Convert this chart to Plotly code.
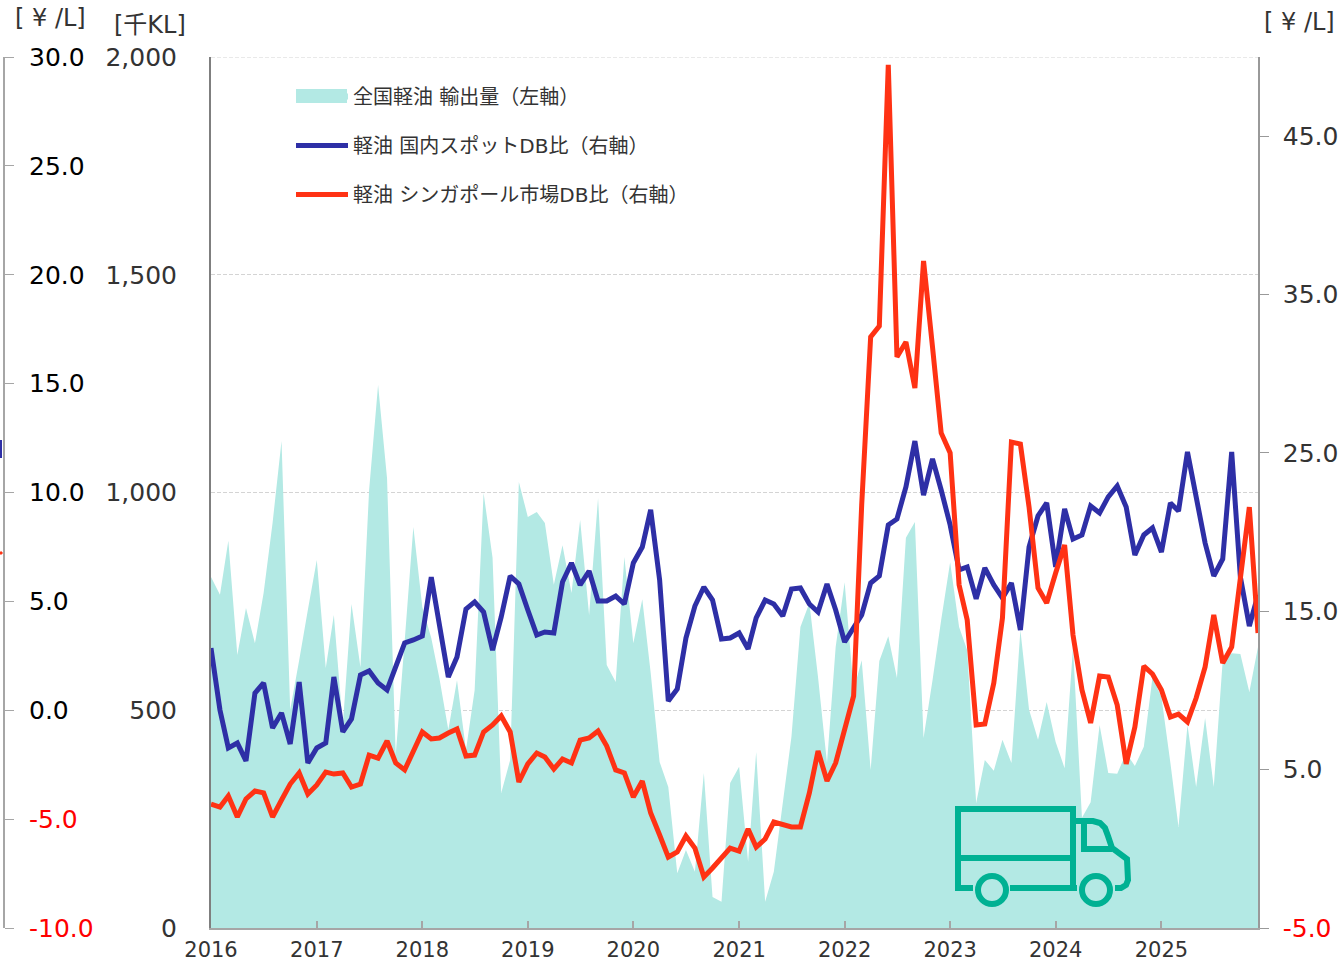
import plotly.graph_objects as go

months = [f"{y}-{m:02d}-01" for y in range(2016, 2026) for m in range(1, 13)]
year_ticks = [f"{y}-01-01" for y in range(2016, 2026)]
year_labels = [str(y) for y in range(2016, 2026)]

exports = [806,765,889,627,735,654,769,930,1118,501,615,730,845,597,719,466,744,599,1006,1247,
           1033,397,659,921,737,666,574,455,569,409,546,999,850,310,386,1024,944,955,930,788,
           879,769,937,719,987,604,565,852,654,755,586,381,324,126,179,129,356,71,60,333,
           370,152,404,60,129,287,439,691,746,576,379,645,794,546,615,363,613,670,574,896,
           932,436,569,707,840,691,638,287,386,361,432,379,684,501,432,519,427,367,645,253,
           289,466,356,354,402,372,416,576,530,379,232,466,324,482,324,615,631,629,542,645]

domestic = [12.68,8.77,6.37,6.68,5.55,9.84,10.47,7.63,8.58,6.62,10.53,5.42,6.37,6.68,10.85,7.38,8.20,10.98,11.23,10.47,
            10.03,11.54,13.00,13.19,13.44,17.16,14.32,10.85,12.11,15.14,15.59,14.95,12.55,14.64,17.23,16.72,15.08,13.50,13.69,13.63,
            16.85,18.05,16.66,17.54,15.65,15.65,15.96,15.46,18.05,19.06,21.40,16.98,9.33,10.09,13.31,15.33,16.53,15.71,13.25,13.31,
            13.63,12.62,14.58,15.71,15.46,14.70,16.41,16.47,15.46,14.95,16.72,15.08,13.06,14.01,14.77,16.79,17.23,20.45,20.83,22.85,
            25.75,22.34,24.62,22.66,20.45,17.61,17.80,15.78,17.73,16.66,15.84,16.79,13.82,19.06,21.02,21.84,17.80,21.46,19.56,19.82,
            21.65,21.21,22.22,22.91,21.58,18.55,19.82,20.26,18.74,21.84,21.33,25.06,22.34,19.31,17.23,18.30,25.06,17.16,14.07,16.03]

singapore = [2.83,2.64,3.34,2.01,3.15,3.65,3.53,2.01,3.08,4.09,4.79,3.46,4.03,4.85,4.72,4.79,3.90,4.09,5.92,5.73,
             6.81,5.42,4.98,6.18,7.38,6.94,7.00,7.31,7.57,5.86,5.92,7.38,7.82,8.39,7.38,4.22,5.36,6.05,5.80,5.04,
             5.67,5.42,6.87,7.00,7.44,6.49,4.98,4.79,3.27,4.28,2.26,0.87,-0.52,-0.20,0.81,0.05,-1.78,-1.21,-0.58,0.05,
             -0.14,1.25,0.11,0.62,1.69,1.57,1.38,1.38,3.53,6.18,4.28,5.42,7.69,9.65,21.71,32.32,33.01,49.50,31.06,32.00,
             29.10,37.12,31.69,26.26,25.00,16.66,14.45,7.82,7.88,10.47,14.58,25.69,25.56,21.58,16.47,15.52,17.42,19.19,13.50,10.03,
             7.95,10.91,10.85,9.08,5.36,7.69,11.54,11.04,10.03,8.32,8.51,8.01,9.52,11.48,14.77,11.73,12.74,17.16,21.58,13.63]

left_vals = [0, 500, 1000, 1500, 2000]
left_labels = ["0", "500", "1,000", "1,500", "2,000"]
right_vals = [-5, 5, 15, 25, 35, 45]
right_labels = ['<span style="color:#ff0000">-5.0</span>', "5.0", "15.0", "25.0", "35.0", "45.0"]
far_vals = [-10, -5, 0, 5, 10, 15, 20, 25, 30]
far_labels = ['<span style="color:#ff0000">-10.0</span>', '<span style="color:#ff0000">-5.0</span>',
              "0.0", "5.0", "10.0", "15.0", "20.0", "25.0", "30.0"]

names = ["全国軽油 輸出量（左軸）", "軽油 国内スポットDB比（右軸）", "軽油 シンガポール市場DB比（右軸）"]

FONT = "DejaVu Sans, Noto Sans CJK JP, sans-serif"
W, H = 1342, 961
L, R, T, B = 4, 1258, 57, 928
AREA = "#b3e9e4"


def px(x):
    return (x - L) / (R - L)


def py(y):
    return (B - y) / (B - T)


def path(points):
    return "M " + " L ".join(f"{px(x):.5f},{py(y):.5f}" for x, y in points)


fig = go.Figure()
fig.add_trace(go.Scatter(x=months, y=exports, name=names[0], mode="none", fill="tozeroy",
                         fillcolor=AREA, yaxis="y", legendgroup="a"))
fig.add_trace(go.Scatter(x=months, y=domestic, name=names[1], mode="lines",
                         line=dict(color="#2e2fa6", width=5), yaxis="y2", legendgroup="b"))
fig.add_trace(go.Scatter(x=months, y=singapore, name=names[2], mode="lines",
                         line=dict(color="#ff3214", width=5), yaxis="y2", legendgroup="c"))
fig.add_trace(go.Scatter(x=[months[0]], y=[None], yaxis="y3", showlegend=False, hoverinfo="skip"))

TRUCK = "#00b193"
TW = 6
truck_lines = dict(type="path", xref="paper", yref="paper", line=dict(color=TRUCK, width=TW))
shapes = [
    dict(truck_lines, path=path([(973, 888), (958, 888), (958, 809), (1073, 809), (1073, 888)])),
    dict(truck_lines, path=path([(958, 858), (1073, 858)])),
    dict(truck_lines, path=path([(1010, 888), (1077, 888)])),
    dict(truck_lines, path=path([(1073, 821), (1093, 821), (1100, 823), (1105, 828), (1108, 836), (1112, 848),
                                 (1127, 859), (1128, 880), (1126, 885), (1121, 888), (1115, 888)])),
    dict(truck_lines, path=path([(1084, 821), (1084, 849), (1112, 849)])),
    dict(type="circle", xref="paper", yref="paper", x0=px(978), x1=px(1006), y0=py(904), y1=py(876),
         line=dict(color=TRUCK, width=TW)),
    dict(type="circle", xref="paper", yref="paper", x0=px(1082), x1=px(1110), y0=py(904), y1=py(876),
         line=dict(color=TRUCK, width=TW)),
    dict(type="line", xref="paper", yref="paper", x0=px(1), x1=px(1), y0=py(440), y1=py(458),
         line=dict(color="#2e2fa6", width=2)),
    dict(type="line", xref="paper", yref="paper", x0=px(0), x1=px(2), y0=py(552), y1=py(554),
         line=dict(color="#ff3214", width=3)),
    dict(type="rect", xref="paper", yref="paper", x0=px(296), x1=px(347), y0=py(103), y1=py(89),
         fillcolor=AREA, line=dict(width=0)),
    dict(type="line", xref="x domain", yref="y", x0=0, x1=1, y0=2000, y1=2000, layer="below",
         line=dict(color="#d4d4d4", width=1, dash="4px,2px")),
]


def unit(text, x, y):
    return dict(text=text, xref="paper", yref="paper", x=px(x), y=py(y), xanchor="center", yanchor="middle",
                showarrow=False, font=dict(family=FONT, size=24, color="#333333"))


fig.update_layout(
    width=W, height=H, autosize=False, showlegend=True,
    margin=dict(l=L, r=W - R, t=T, b=H - B, pad=0, autoexpand=False),
    paper_bgcolor="white", plot_bgcolor="white",
    font=dict(family=FONT, color="#333333"),
    shapes=shapes,
    annotations=[unit("[ ¥ /L]", 50, 18), unit("[千KL]", 150, 25), unit("[ ¥ /L]", 1299, 22)],
    legend=dict(x=px(291), y=py(77), xanchor="left", yanchor="top",
                bgcolor="rgba(0,0,0,0)", font=dict(family=FONT, size=20, color="#333333"),
                itemwidth=52, tracegroupgap=20, traceorder="grouped"),
    xaxis=dict(domain=[px(211), 1], type="date", range=[months[0], months[-1]], tickmode="array",
               tickvals=year_ticks, ticktext=year_labels, ticks="inside", ticklen=7, tickwidth=2, tickangle=0,
               tickcolor="#a6a6a6", showline=True, linecolor="#a6a6a6", linewidth=2, showgrid=False,
               zeroline=False, ticklabelstandoff=2, tickfont=dict(family=FONT, size=21, color="#333333")),
    yaxis=dict(range=[0, 2000], tickmode="array", tickvals=left_vals, ticktext=left_labels, ticks="",
               showline=True, linecolor="#7f7f7f", linewidth=2, showgrid=True, gridcolor="#d4d4d4",
               griddash="4px,2px", gridwidth=1, zeroline=False, ticklabelstandoff=27,
               tickfont=dict(family=FONT, size=25, color="#333333")),
    yaxis2=dict(range=[-5, 50], overlaying="y", side="right", anchor="x", tickmode="array", tickvals=right_vals,
                ticktext=right_labels, ticks="outside", ticklen=9, tickwidth=1, tickcolor="#999999",
                showline=True, linecolor="#999999", linewidth=1.5, showgrid=False, zeroline=False,
                ticklabelstandoff=9, tickfont=dict(family=FONT, size=25, color="#333333")),
    yaxis3=dict(range=[-10, 30], overlaying="y", side="right", anchor="free", position=0, tickmode="array",
                tickvals=far_vals, ticktext=far_labels, ticks="outside", ticklen=9, tickwidth=1,
                tickcolor="#a6a6a6", showline=True, linecolor="#a6a6a6", linewidth=2, showgrid=False,
                zeroline=False, ticklabelstandoff=10,
                tickfont=dict(family=FONT, size=25, color="#000000")),
)

fig.write_html("out.html", post_script="document.body.style.margin='0';", config=dict(displayModeBar=False))
